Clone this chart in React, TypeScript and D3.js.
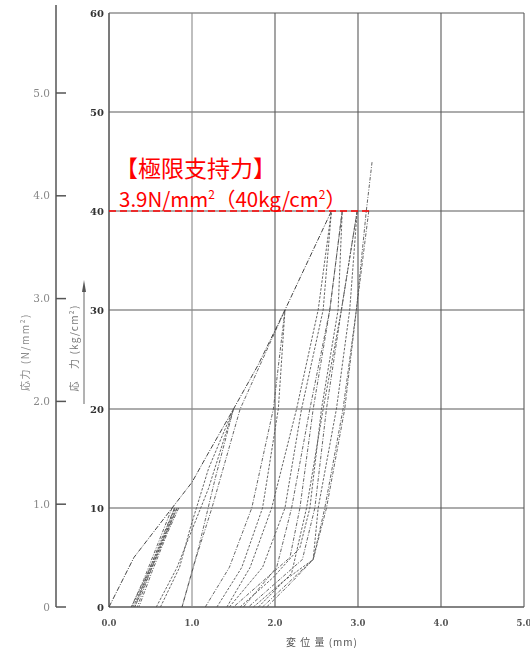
import React from "react";
import * as d3 from "d3";

// ---- data (x: 変位量 mm, y: 応力 kg/cm²) ----
const X_TICKS = [0, 1, 2, 3, 4, 5];
const X_TICK_LABELS = ["0.0", "1.0", "2.0", "3.0", "4.0", "5.0"];
const Y_TICKS = [0, 10, 20, 30, 40, 50, 60];
const Y_TICK_LABELS = ["0", "10", "20", "30", "40", "50", "60"];
const N_TICKS = [0, 1, 2, 3, 4, 5];
const N_TICK_LABELS = ["0", "1.0", "2.0", "3.0", "4.0", "5.0"];
const ULTIMATE_KG = 40;

type P = [number, number];
const envelope: P[] = [[0, 0], [0.3, 5], [0.76, 10], [1.0, 12.6], [1.18, 15.3], [1.5, 20], [1.8, 24.5], [2.12, 30], [2.4, 35], [2.68, 40]];
const cycle1A: P[] = [[0.76, 10], [0.58, 6.2], [0.42, 2.8], [0.27, 0]];
const cycle1B: P[] = [[0.27, 0], [0.47, 3.5], [0.64, 6.8], [0.79, 10]];
const cycle1C: P[] = [[0.79, 10], [0.61, 6.4], [0.45, 3.0], [0.31, 0]];
const cycle1D: P[] = [[0.31, 0], [0.5, 3.6], [0.67, 7.0], [0.82, 10]];
const cycle1E: P[] = [[0.82, 10], [0.64, 6.6], [0.48, 3.2], [0.34, 0]];
const cycle1F: P[] = [[0.29, 0], [0.52, 4.2], [0.7, 7.8], [0.8, 10]];
const cycle1G: P[] = [[0.84, 10], [0.7, 7.4], [0.52, 3.6], [0.36, 0]];
const cycle2A: P[] = [[0.57, 0], [0.82, 4], [1.0, 7.8], [1.2, 12], [1.5, 20]];
const cycle2B: P[] = [[1.5, 20], [1.28, 13], [1.08, 6], [0.88, 0]];
const cycle2C: P[] = [[0.62, 0], [0.85, 4], [0.98, 8], [1.2, 14], [1.5, 20]];
const cycle3A: P[] = [[1.16, 0], [1.45, 4], [1.72, 10], [1.98, 20], [2.12, 30]];
const cycle3B: P[] = [[1.3, 0], [1.6, 4], [1.85, 10], [2.04, 20], [2.12, 30]];
const cycle3C: P[] = [[0.88, 0], [1.05, 5], [1.24, 10], [1.58, 20], [1.85, 25], [2.12, 30]];
const cycle4A: P[] = [[1.42, 0], [1.7, 4], [1.96, 10], [2.26, 20], [2.52, 30], [2.68, 40]];
const cycle4B: P[] = [[2.81, 40], [2.66, 30], [2.46, 20], [2.3, 10], [2.18, 5], [1.5, 0]];
const cycle4C: P[] = [[1.58, 0], [1.98, 3], [2.3, 6], [2.42, 10], [2.56, 20], [2.76, 30], [2.81, 40]];
const cycle4D: P[] = [[2.99, 40], [2.8, 30], [2.62, 20], [2.48, 10], [2.33, 4.8], [1.68, 0]];
const cycle4E: P[] = [[1.74, 0], [2.1, 2.6], [2.46, 4.8], [2.52, 10], [2.74, 20], [2.9, 30], [2.99, 40]];
const cycle4F: P[] = [[3.13, 40], [2.98, 30], [2.84, 20], [2.62, 10], [2.46, 4.8], [1.85, 0]];
const cycle4G: P[] = [[1.45, 0], [1.85, 4], [2.12, 10], [2.32, 20], [2.58, 30], [2.68, 40]];
const cycle4H: P[] = [[1.62, 0], [2.02, 4], [2.2, 10], [2.42, 20], [2.66, 30], [2.81, 40]];
const cycle4I: P[] = [[1.8, 0], [2.2, 3.4], [2.38, 10], [2.58, 20], [2.8, 30], [2.99, 40]];
const finalLoad: P[] = [[1.9, 0], [2.2, 2.5], [2.46, 4.8], [2.6, 10], [2.82, 20], [2.98, 30], [3.1, 40], [3.17, 45]];

const CURVES: P[][] = [
  cycle1A, cycle1B, cycle1C, cycle1D, cycle1E, cycle1F, cycle1G,
  cycle2A, cycle2B, cycle2C,
  cycle3A, cycle3B, cycle3C,
  cycle4A, cycle4B, cycle4C, cycle4D, cycle4E, cycle4F, cycle4G, cycle4H, cycle4I,
  finalLoad,
];

export default function App() {
  const W = 530, H = 655;
  const x = d3.scaleLinear().domain([0, 5]).range([109, 524]);
  const y = d3.scaleLinear().domain([0, 60]).range([607, 13]);
  const yN = d3.scaleLinear().domain([0, 5]).range([607, 93]);
  const line = d3.line<P>().x((d) => x(d[0])).y((d) => y(d[1]));
  const serif = "'DejaVu Serif', 'Liberation Serif', serif";
  const cjk = "'Noto Sans CJK JP', sans-serif";

  return (
    <svg width={W} height={H} style={{ position: "absolute", left: 0, top: 0, background: "#fff" }}>
      <defs>
        <filter id="scan" x="-5%" y="-5%" width="110%" height="110%">
          <feGaussianBlur stdDeviation="0.45" />
        </filter>
      </defs>
      <rect width={W} height={H} fill="#fff" />
      <g filter="url(#scan)">
        {/* grid */}
        {Y_TICKS.map((t) => (
          <line key={"gy" + t} x1={x(0)} x2={x(5)} y1={y(t)} y2={y(t)} stroke="#5a5a5a" strokeWidth={t === 0 ? 1.6 : 1.1} />
        ))}
        {X_TICKS.map((t) => (
          <line key={"gx" + t} x1={x(t)} x2={x(t)} y1={y(0)} y2={y(60)} stroke={t === 1 ? "#8a8a8a" : "#5a5a5a"} strokeWidth={t === 0 ? 1.6 : 1.1} />
        ))}
        {/* inner y tick labels */}
        {Y_TICKS.map((t, i) => (
          <text key={"yl" + t} x={x(0) - 5} y={y(t) + 3.5} textAnchor="end" fontFamily={serif} fontSize={10} fontWeight="bold" fill="#333">
            {Y_TICK_LABELS[i]}
          </text>
        ))}
        {/* x tick labels */}
        {X_TICKS.map((t, i) => (
          <text key={"xl" + t} x={x(t)} y={626} textAnchor="middle" fontFamily={serif} fontSize={8.5} fontWeight="bold" fill="#555">
            {X_TICK_LABELS[i]}
          </text>
        ))}
        <text x={322} y={646} textAnchor="middle" fontFamily={cjk} fontSize={10} fill="#555" letterSpacing={1}>
          変 位 量 (mm)
        </text>
        {/* outer N/mm² axis */}
        <line x1={56} x2={56} y1={5} y2={yN(0)} stroke="#555" strokeWidth={1.5} />
        {N_TICKS.map((t, i) => (
          <g key={"nt" + t}>
            <line x1={56} x2={66} y1={yN(t)} y2={yN(t)} stroke="#555" strokeWidth={1.5} />
            <text x={50} y={yN(t) + 3.5} textAnchor="end" fontFamily={serif} fontSize={10.5} fill="#888">
              {N_TICK_LABELS[i]}
            </text>
          </g>
        ))}
        <text transform="translate(29,352) rotate(-90)" textAnchor="middle" fontFamily={cjk} fontSize={10} fill="#888" letterSpacing={1.5}>
          応力 (N/mm²)
        </text>
        <text transform="translate(78,348) rotate(-90)" textAnchor="middle" fontFamily={cjk} fontSize={10} fill="#777" letterSpacing={1.2}>
          応　力 (kg/cm²)
        </text>
        <line x1={84} x2={84} y1={288} y2={404} stroke="#666" strokeWidth={1} />
        <path d="M84,280 L82,292 L86,292 Z" fill="#555" />
        {/* curves */}
        {CURVES.map((c, i) => (
          <path key={"c" + i} d={line(c) || ""} fill="none" stroke="#555" strokeWidth={0.9} strokeDasharray={i % 2 ? "2.5,1.5" : "3.5,1.5,1,1.5"} />
        ))}
        <path d={line(envelope) || ""} fill="none" stroke="#444" strokeWidth={1} strokeDasharray="5,1.5,1,1.5" />
      </g>
      {/* red annotation */}
      <line x1={x(0)} x2={372} y1={y(ULTIMATE_KG)} y2={y(ULTIMATE_KG)} stroke="#ff0000" strokeWidth={1.6} strokeDasharray="7,4" />
      <text x={115} y={177} fontFamily={cjk} fontSize={23} fill="#ff0000">【極限支持力】</text>
      <text x={119} y={207} fontFamily={cjk} fontSize={20.5} fill="#ff0000">
        3.9N/mm<tspan fontSize={12} dy={-8}>2</tspan><tspan dy={8}>（40kg/cm</tspan><tspan fontSize={12} dy={-8}>2</tspan><tspan dy={8}>）</tspan>
      </text>
    </svg>
  );
}
